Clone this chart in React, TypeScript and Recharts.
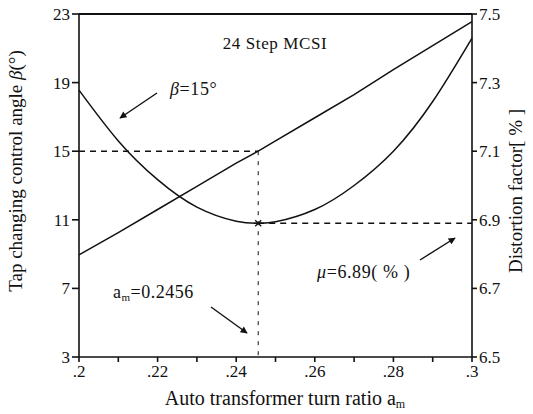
import React from 'react';
import { LineChart, Line, XAxis, YAxis, ReferenceLine, ReferenceDot } from 'recharts';

const ratio = [0.2, 0.21, 0.22, 0.23, 0.24, 0.2456, 0.25, 0.26, 0.27, 0.28, 0.29, 0.3];
const beta = [8.95, 10.25, 11.6, 12.95, 14.3, 15.0, 15.6, 16.95, 18.3, 19.75, 21.15, 22.55];
const distortion = [7.278, 7.13, 7.017, 6.937, 6.896, 6.89, 6.894, 6.93, 7.0, 7.1, 7.245, 7.43];

const xTicks = [0.2, 0.21, 0.22, 0.23, 0.24, 0.25, 0.26, 0.27, 0.28, 0.29, 0.3];
const leftTicks = [3, 7, 11, 15, 19, 23];
const rightTicks = [6.5, 6.7, 6.9, 7.1, 7.3, 7.5];

const optimumRatio = 0.2456;
const optimumBeta = 15;
const minDistortion = 6.89;

const data = ratio.map((r, i) => ({ ratio: r, beta: beta[i], distortion: distortion[i] }));

const FONT = '"Times New Roman", Times, "Liberation Serif", "Noto Serif", "DejaVu Serif", serif';
const INK = '#111';

const xFmt = (v: number) => {
  const n = Math.round(v * 100);
  if (n % 2 !== 0) return '';
  return String(v).replace(/^0/, '');
};

const Star = (props: any) => {
  const { cx, cy } = props;
  if (cx == null || cy == null) return null;
  const s = 3;
  return (
    <g stroke={INK} strokeWidth={1.3}>
      <line x1={cx - s} y1={cy - s} x2={cx + s} y2={cy + s} />
      <line x1={cx - s} y1={cy + s} x2={cx + s} y2={cy - s} />
      <line x1={cx - s - 1} y1={cy} x2={cx + s + 1} y2={cy} />
    </g>
  );
};

export default function App() {
  return (
    <div style={{ position: 'absolute', left: 0, top: 0, width: 533, height: 414, background: '#fff', fontFamily: FONT }}>
      <div style={{ position: 'absolute', left: 0, top: 0 }}>
        <LineChart
          width={533}
          height={414}
          data={data}
          margin={{ top: 14, right: 0, bottom: 0, left: 0 }}
        >
          <XAxis
            dataKey="ratio"
            type="number"
            domain={[0.2, 0.3]}
            ticks={xTicks}
            tickFormatter={xFmt}
            interval={0}
            height={57}
            tickSize={5}
            tickMargin={3}
            stroke={INK}
            strokeWidth={1.6}
            tick={{ fill: INK, fontSize: 17, fontFamily: FONT }}
          />
          <YAxis
            yAxisId="left"
            orientation="left"
            type="number"
            domain={[3, 23]}
            ticks={leftTicks}
            interval={0}
            width={79}
            tickSize={7}
            tickMargin={2}
            stroke={INK}
            strokeWidth={1.6}
            tick={{ fill: INK, fontSize: 17, fontFamily: FONT }}
          />
          <YAxis
            yAxisId="right"
            orientation="right"
            type="number"
            domain={[6.5, 7.5]}
            ticks={rightTicks}
            interval={0}
            width={61}
            tickSize={5}
            tickMargin={2}
            tickFormatter={(v: number) => v.toFixed(1)}
            stroke={INK}
            strokeWidth={1.6}
            tick={{ fill: INK, fontSize: 17, fontFamily: FONT }}
          />
          <ReferenceLine yAxisId="left" y={23} stroke={INK} strokeWidth={1.8} />
          <ReferenceLine
            yAxisId="left"
            segment={[{ x: 0.2, y: optimumBeta }, { x: optimumRatio, y: optimumBeta }]}
            stroke={INK}
            strokeWidth={1.4}
            strokeDasharray="6 5"
          />
          <ReferenceLine
            yAxisId="left"
            segment={[{ x: optimumRatio, y: optimumBeta }, { x: optimumRatio, y: 3 }]}
            stroke={INK}
            strokeWidth={1}
            strokeDasharray="4 6"
          />
          <ReferenceLine
            yAxisId="right"
            segment={[{ x: optimumRatio, y: minDistortion }, { x: 0.3, y: minDistortion }]}
            stroke={INK}
            strokeWidth={1.4}
            strokeDasharray="6 5"
          />
          <Line
            yAxisId="left"
            dataKey="beta"
            type="linear"
            stroke={INK}
            strokeWidth={1.5}
            dot={false}
            isAnimationActive={false}
          />
          <Line
            yAxisId="right"
            dataKey="distortion"
            type="natural"
            stroke={INK}
            strokeWidth={1.5}
            dot={false}
            isAnimationActive={false}
          />
          <ReferenceDot yAxisId="right" x={optimumRatio} y={minDistortion} shape={<Star />} />
        </LineChart>
      </div>
      <svg
        width={533}
        height={414}
        style={{ position: 'absolute', left: 0, top: 0, pointerEvents: 'none', fontFamily: FONT }}
      >
        <defs>
          <marker id="ah" viewBox="0 0 10 10" refX="9" refY="5" markerWidth="13" markerHeight="7" orient="auto" markerUnits="userSpaceOnUse">
            <path d="M0,0 L10,5 L0,10 Z" fill={INK} />
          </marker>
        </defs>
        <text x={275} y={49} textAnchor="middle" fontSize={17} letterSpacing={0.6} fill={INK}>24 Step MCSI</text>

        <text x={170} y={95} fontSize={18} letterSpacing={0.6} fill={INK}>
          <tspan fontStyle="italic">β</tspan>=15°
        </text>
        <line x1={157} y1={93} x2={120} y2={118} stroke={INK} strokeWidth={1.4} markerEnd="url(#ah)" />

        <text x={113} y={298} fontSize={18} letterSpacing={0.5} fill={INK}>
          a<tspan fontSize={11} dy={3}>m</tspan><tspan dy={-3}>=0.2456</tspan>
        </text>
        <line x1={211} y1={307} x2={247} y2={333} stroke={INK} strokeWidth={1.4} markerEnd="url(#ah)" />

        <text x={317} y={278} fontSize={18} letterSpacing={0.6} fill={INK}>
          <tspan fontStyle="italic">μ</tspan>=6.89( % )
        </text>
        <line x1={420} y1={260} x2={455} y2={238} stroke={INK} strokeWidth={1.4} markerEnd="url(#ah)" />

        <text transform="translate(22,171) rotate(-90)" textAnchor="middle" fontSize={19} fill={INK}>
          Tap changing control angle <tspan fontStyle="italic">β</tspan>(°)
        </text>
        <text transform="translate(522,191) rotate(-90)" textAnchor="middle" fontSize={19} fill={INK}>
          Distortion factor[ % ]
        </text>
        <text x={285} y={405} textAnchor="middle" fontSize={20} fill={INK}>
          Auto transformer turn ratio a<tspan fontSize={12} dy={3}>m</tspan>
        </text>
      </svg>
    </div>
  );
}
